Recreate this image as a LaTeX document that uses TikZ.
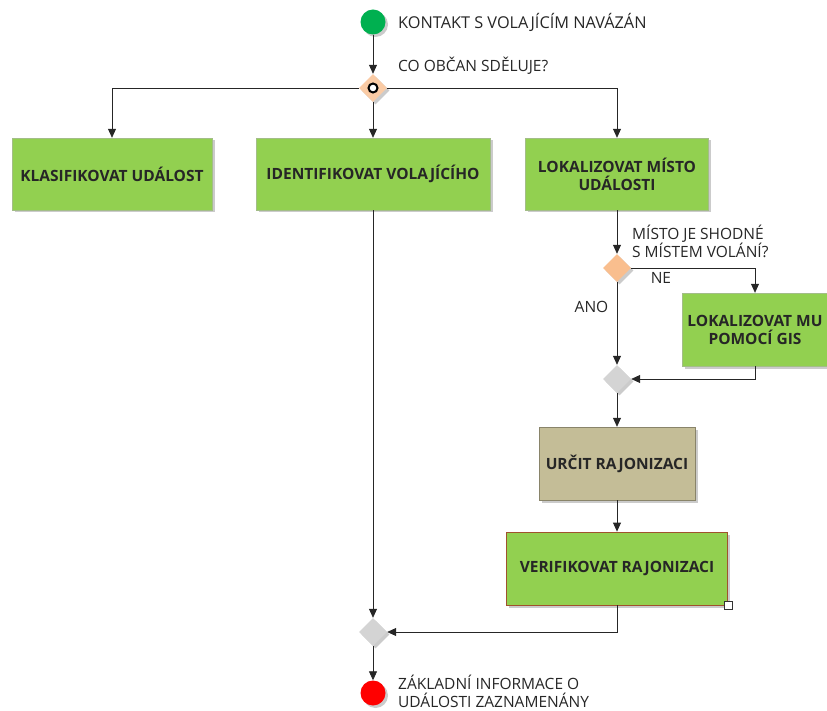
\documentclass[tikz,border=0pt]{standalone}
\usepackage{fontspec}
\setmainfont{Open Sans}
\usetikzlibrary{arrows.meta,shapes.geometric,shadows}
\definecolor{boxgreen}{HTML}{92D050}
\definecolor{boxtan}{HTML}{C4BD97}
\definecolor{startgreen}{HTML}{00B050}
\definecolor{endred}{HTML}{FF0000}
\definecolor{decorange}{HTML}{F9BE8E}
\definecolor{mergegrey}{HTML}{D4D4D4}
\definecolor{framebrown}{HTML}{A0522D}
\newcommand{\lblfont}{\fontsize{15.5}{18}\selectfont}
\tikzset{
  shade/.style={drop shadow={shadow xshift=2.5pt,shadow yshift=-2.5pt,fill=black!45,opacity=0.45}},
  task/.style={draw=boxgreen!70!black!60,line width=0.4pt,fill=boxgreen,shade,align=center,
    font=\lblfont\bfseries,text=black!85,inner sep=2pt},
  merge/.style={diamond,fill=mergegrey,minimum width=28pt,minimum height=28pt,inner sep=0pt,shade},
  event/.style={circle,minimum size=25pt,inner sep=0pt,shade},
  lbl/.style={font=\lblfont,text=black!85,align=left,anchor=west,inner sep=0pt},
  arr/.style={draw=black!85,line width=0.8pt,-{Triangle[length=9pt,width=8pt]}}
}
\begin{document}
\begin{tikzpicture}[x=1pt,y=-1pt]
\useasboundingbox (0,0) rectangle (827,711);
% events
\node[event,fill=startgreen] (start) at (373,22) {};
\node[lbl,font=\fontsize{16.3}{18}\selectfont] (startlbl) at (398,22) {KONTAKT S VOLAJÍCÍM NAVÁZÁN};
\node[event,fill=endred] (stop) at (373,693) {};
\node[lbl] (stoplbl) at (398,691.5) {ZÁKLADNÍ INFORMACE O\\UDÁLOSTI ZAZNAMENÁNY};
% fork decision
\node[diamond,fill=decorange!80!white,minimum width=28pt,minimum height=28pt,inner sep=0pt,shade] (fork) at (373,88) {};
\node[circle,draw=black,line width=2pt,fill=white,minimum size=9pt,inner sep=0pt] (forkmark) at (fork) {};
\node[lbl] (forklbl) at (398,66) {CO OBČAN SDĚLUJE?};
% tasks
\node[task,minimum width=200pt,minimum height=72pt] (b1) at (112,174) {KLASIFIKOVAT UDÁLOST};
\node[task,minimum width=234pt,minimum height=72pt] (b2) at (373,174) {IDENTIFIKOVAT VOLAJÍCÍHO};
\node[task,minimum width=183pt,minimum height=72pt] (b3) at (617,174) {LOKALIZOVAT MÍSTO\\UDÁLOSTI};
\node[diamond,fill=decorange,minimum width=28pt,minimum height=28pt,inner sep=0pt,shade] (d2) at (617,268) {};
\node[lbl] (d2lbl) at (632,241) {MÍSTO JE SHODNÉ\\S MÍSTEM VOLÁNÍ?};
\node[task,minimum width=146pt,minimum height=73pt] (b4) at (755,329.5) {LOKALIZOVAT MU\\POMOCÍ GIS};
\node[merge] (m1) at (617,379) {};
\node[task,fill=boxtan,draw=boxtan!70!black,minimum width=156pt,minimum height=73pt] (b5) at (617,463.5) {URČIT RAJONIZACI};
\node[task,draw=framebrown,line width=0.8pt,minimum width=221pt,minimum height=73pt] (b6) at (617,568.5) {VERIFIKOVAT RAJONIZACI};
\node[draw=black!80,fill=white,minimum size=8pt,inner sep=0pt,line width=0.6pt] (b6corner) at (b6.south east) {};
\node[merge] (m2) at (373,632) {};
% flows
\draw[arr] (start) -- (fork);
\draw[arr] (fork.west) -| (b1.north);
\draw[arr] (fork.south) -- (b2.north);
\draw[arr] (fork.east) -| (b3.north);
\draw[arr] (b3.south) -- (d2.north);
\draw[arr] (d2.east) -| node[pos=0.12,below,font=\lblfont,text=black!85,yshift=-1pt] {NE} (b4.north);
\draw[arr] (d2.south) -- node[pos=0.3,left,font=\lblfont,text=black!85,xshift=-5pt] {ANO} (m1.north);
\draw[arr] (b4.south) |- (m1.east);
\draw[arr] (m1.south) -- (b5.north);
\draw[arr] (b5.south) -- (b6.north);
\draw[arr] (b6.south) |- (m2.east);
\draw[arr] (b2.south) -- (m2.north);
\draw[arr] (m2.south) -- (stop.north);
\end{tikzpicture}
\end{document}
